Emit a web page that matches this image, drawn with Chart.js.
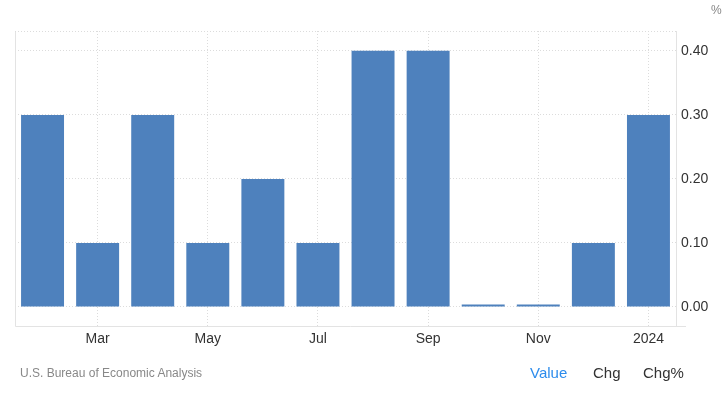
<!DOCTYPE html>
<html>
<head>
<meta charset="utf-8">
<script src="https://cdn.jsdelivr.net/npm/chart.js@4.4.1/dist/chart.umd.min.js"></script>
<style>
  html, body { margin: 0; padding: 0; background: #fff; }
  #wrap { position: relative; width: 726px; height: 393px; font-family: "Liberation Sans", Arial, sans-serif; }
  #chart { position: absolute; left: 0; top: 0; }
  .unit { position: absolute; left: 711px; top: 3px; font-size: 12px; color: #888; }
  .src { position: absolute; left: 20px; top: 366px; font-size: 12px; color: #888; }
  .tab { position: absolute; top: 364px; font-size: 15px; color: #333; }
</style>
</head>
<body>
<div id="wrap">
  <canvas id="chart" width="726" height="393"></canvas>
  <div class="unit">%</div>
  <div class="src">U.S. Bureau of Economic Analysis</div>
  <div class="tab" style="left:530px;color:#2d8cec">Value</div>
  <div class="tab" style="left:593px">Chg</div>
  <div class="tab" style="left:643px">Chg%</div>
</div>
<script>
// --- Dades ---
const months = ['Feb', 'Mar', 'Apr', 'May', 'Jun', 'Jul', 'Aug', 'Sep', 'Oct', 'Nov', 'Dec', '2024'];
const values = [0.3, 0.1, 0.3, 0.1, 0.2, 0.1, 0.4, 0.4, 0.004, 0.004, 0.1, 0.3];
const yTicks = [0, 0.1, 0.2, 0.3, 0.4];

const BAR_COLOR = '#4e81bd';
const GRID_COLOR = '#dcdcdc';
const FONT = 'Liberation Sans';

// vores de l'àrea del gràfic
const frame = {
    id: 'frame',
    afterDraw(chart) {
        const { ctx, chartArea: a } = chart;
        ctx.save();
        ctx.strokeStyle = '#e3e3e3';
        ctx.lineWidth = 1;
        ctx.beginPath();
        ctx.moveTo(a.left + 0.5, a.top);
        ctx.lineTo(a.left + 0.5, a.bottom + 0.5);
        ctx.lineTo(a.right + 10, a.bottom + 0.5);
        ctx.moveTo(a.right + 0.5, a.top);
        ctx.lineTo(a.right + 0.5, a.bottom);
        ctx.stroke();
        ctx.strokeStyle = GRID_COLOR;
        ctx.setLineDash([1, 2]);
        ctx.beginPath();
        ctx.moveTo(a.left, a.top + 0.5);
        ctx.lineTo(a.right, a.top + 0.5);
        ctx.stroke();
        ctx.restore();
    }
};

new Chart(document.getElementById('chart'), {
    type: 'bar',
    data: {
        labels: months,
        datasets: [{
            data: values,
            backgroundColor: BAR_COLOR,
            categoryPercentage: 1,
            barPercentage: 0.78,
        }]
    },
    options: {
        responsive: false,
        animation: false,
        layout: { padding: { left: 15, top: 31, right: 0, bottom: 37 } },
        plugins: { legend: { display: false }, tooltip: { enabled: false } },
        scales: {
            x: {
                grid: {
                    offset: false,
                    drawTicks: false,
                    color: c => (c.index % 2 === 1 ? GRID_COLOR : 'transparent'),
                },
                border: { display: false, dash: [1, 2] },
                ticks: {
                    autoSkip: false,
                    maxRotation: 0,
                    padding: 5,
                    color: '#333',
                    font: { family: FONT, size: 14 },
                    callback: (v, i) => (i % 2 === 1 ? months[i] : ''),
                },
                afterFit: s => { s.height = 30; },
            },
            y: {
                position: 'right',
                min: -0.0297,
                max: 0.431,
                afterBuildTicks: s => { s.ticks = yTicks.map(v => ({ value: v })); },
                grid: { drawTicks: false, color: GRID_COLOR },
                border: { display: false, dash: [1, 2] },
                ticks: {
                    padding: 5,
                    color: '#333',
                    font: { family: FONT, size: 14 },
                    callback: v => v.toFixed(2),
                },
                afterFit: s => { s.width = 50; },
            }
        }
    },
    plugins: [frame]
});
</script>
</body>
</html>
